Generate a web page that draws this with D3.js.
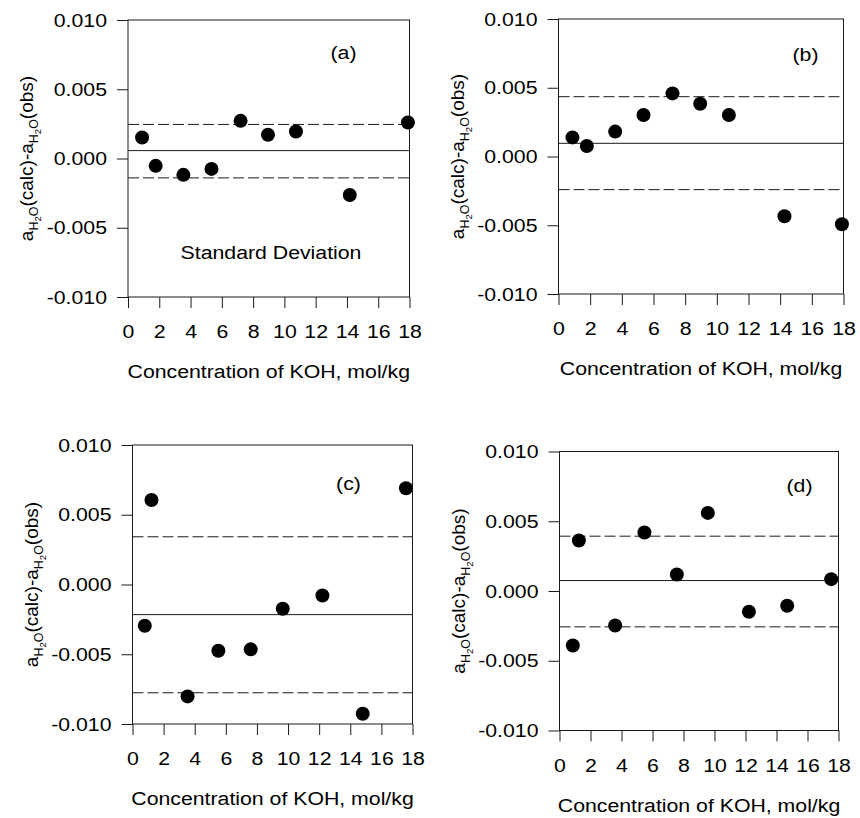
<!DOCTYPE html>
<html>
<head>
<meta charset="utf-8">
<script src="https://cdn.jsdelivr.net/npm/d3@7"></script>
<style>
  body { margin: 0; background: #fff; }
  svg { display: block; font-family: Arial, "Liberation Sans", sans-serif; }
</style>
</head>
<body>
<script>
// residuals of water activity vs KOH molality, four fits
var xTicks = [0, 2, 4, 6, 8, 10, 12, 14, 16, 18];
var yTicks = [-0.010, -0.005, 0.000, 0.005, 0.010];

var concA = [0.90, 1.77, 3.54, 5.34, 7.20, 8.95, 10.74, 14.18, 17.90];
var devA  = [0.00152, -0.00053, -0.00118, -0.00075, 0.00272, 0.00171, 0.00195, -0.00263, 0.00260];
var bandA = [0.00246, 0.00057, -0.00140];   // upper sd, mean, lower sd

var concB = [0.88, 1.79, 3.58, 5.37, 7.20, 8.95, 10.76, 14.27, 17.90];
var devB  = [0.00139, 0.00076, 0.00181, 0.00302, 0.00459, 0.00384, 0.00302, -0.00435, -0.00493];
var bandB = [0.00435, 0.00096, -0.00241];

var concC = [0.79, 1.22, 3.54, 5.52, 7.60, 9.66, 12.21, 14.80, 17.58];
var devC  = [-0.00296, 0.00606, -0.00802, -0.00475, -0.00465, -0.00174, -0.00079, -0.00926, 0.00690];
var bandC = [0.00342, -0.00216, -0.00776];

var concD = [0.86, 1.25, 3.59, 5.48, 7.57, 9.57, 12.22, 14.69, 17.53];
var devD  = [-0.00391, 0.00362, -0.00247, 0.00419, 0.00118, 0.00560, -0.00149, -0.00106, 0.00085];
var bandD = [0.00393, 0.00075, -0.00257];

var panelTags = ["(a)", "(b)", "(c)", "(d)"];

var W = 860, H = 818;
var svg = d3.select("body").append("svg").attr("width", W).attr("height", H);

var ink = "#1a1a1a";
var fs = 19;
var stretch = 1.12;   // the scanned lettering is wider than Arial

var panels = [
  {x: concA, y: devA, band: bandA, tag: panelTags[0], l: 128, r: 409.5, t: 20, b: 297, tagDx: -66, tagDy: 39, note: "Standard Deviation"},
  {x: concB, y: devB, band: bandB, tag: panelTags[1], l: 558.5, r: 843.5, t: 19, b: 294, tagDx: -38, tagDy: 42},
  {x: concC, y: devC, band: bandC, tag: panelTags[2], l: 132.5, r: 412.5, t: 445, b: 724, tagDx: -64, tagDy: 45},
  {x: concD, y: devD, band: bandD, tag: panelTags[3], l: 559.5, r: 838.5, t: 451.5, b: 730.5, tagDx: -39, tagDy: 40}
];

function wideText(g, x, y, str) {
  return g.append("text")
      .attr("transform", "translate(" + x + "," + y + ") scale(" + stretch + ",1)")
      .attr("text-anchor", "middle").attr("font-size", fs).attr("fill", "#000")
      .text(str);
}

panels.forEach(function (p) {
  var x = d3.scaleLinear().domain([0, 18]).range([p.l, p.r]);
  var y = d3.scaleLinear().domain([-0.010, 0.010]).range([p.b, p.t]);
  var g = svg.append("g");

  // frame
  g.append("rect")
      .attr("x", p.l).attr("y", p.t)
      .attr("width", p.r - p.l).attr("height", p.b - p.t)
      .attr("fill", "none").attr("stroke", ink).attr("stroke-width", 1);

  var xAxis = g.append("g")
      .attr("transform", "translate(0," + p.b + ")")
      .call(d3.axisBottom(x).tickValues(xTicks).tickSize(11).tickPadding(17).tickFormat(d3.format("d")));
  var yAxis = g.append("g")
      .attr("transform", "translate(" + p.l + ",0)")
      .call(d3.axisLeft(y).tickValues(yTicks).tickSize(11).tickPadding(9)
        .tickFormat(function (d) { return d3.format(".3f")(d).replace("−", "-"); }));

  [xAxis, yAxis].forEach(function (ax) {
    ax.select(".domain").remove();
    ax.selectAll("line").attr("stroke", ink);
    ax.selectAll("text").attr("fill", "#000").attr("font-size", fs)
        .attr("font-family", "Arial, 'Liberation Sans', sans-serif");
  });
  xAxis.selectAll("text").attr("transform", "scale(" + stretch + ",1)");
  yAxis.selectAll("text")
      .attr("x", 0)
      .attr("transform", "translate(-21,0) scale(" + stretch + ",1)");

  // mean and +/- sd lines
  g.selectAll(".band").data(p.band).enter().append("line")
      .attr("x1", x(0)).attr("x2", x(18))
      .attr("y1", function (d) { return y(d); })
      .attr("y2", function (d) { return y(d); })
      .attr("stroke", ink).attr("stroke-width", 1)
      .attr("stroke-dasharray", function (d, i) { return i === 1 ? null : "11,4"; });

  // points
  g.selectAll(".pt").data(p.x).enter().append("circle")
      .attr("cx", function (d) { return x(d); })
      .attr("cy", function (d, i) { return y(p.y[i]); })
      .attr("r", 7).attr("fill", "#000");

  wideText(g, p.r + p.tagDx, p.t + p.tagDy, p.tag);

  if (p.note) wideText(g, p.l + 143, p.t + 239, p.note);

  // x title
  wideText(g, (p.l + p.r) / 2, p.b + 81, "Concentration of KOH, mol/kg");

  // y title with subscripts
  var yt = g.append("text")
      .attr("transform", "translate(" + (p.l - 95) + "," + ((p.t + p.b) / 2) + ") rotate(-90)")
      .attr("text-anchor", "middle").attr("font-size", fs);
  function sub(t) {
    t.append("tspan").text("a");
    t.append("tspan").attr("dy", 5).attr("font-size", 12.5).text("H");
    t.append("tspan").attr("dy", 3).attr("font-size", 9.5).text("2");
    t.append("tspan").attr("dy", -3).attr("font-size", 12.5).text("O");
  }
  sub(yt);
  yt.append("tspan").attr("dy", -5).text("(calc)-");
  sub(yt);
  yt.append("tspan").attr("dy", -5).text("(obs)");
});
</script>
</body>
</html>
